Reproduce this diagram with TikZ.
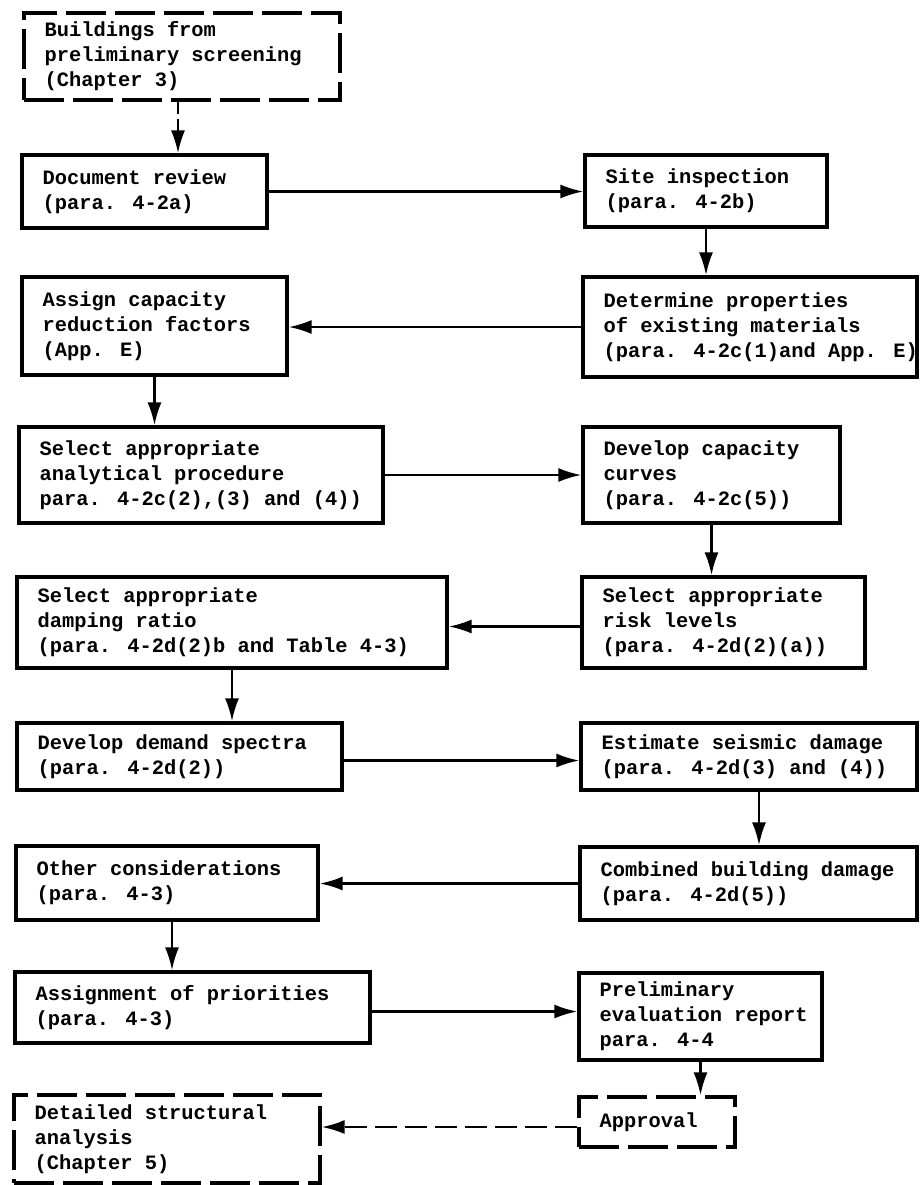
\documentclass[tikz,border=0pt]{standalone}
\usepackage{fontspec}
\newfontfamily\mono{Liberation Mono}
\usetikzlibrary{arrows.meta}
\tikzset{
  boxst/.style={draw, line width=3.2pt, rectangle, inner sep=0pt},
  dbox/.style={dash pattern=on 40pt off 9pt},
  txt/.style={align=left, inner sep=0pt, font=\mono\bfseries\fontsize{20.4}{25}\selectfont},
  arr/.style={line width=2.6pt, -{Latex[length=23pt,width=14pt]}},
  darr/.style={arr, dash pattern=on 22pt off 8pt},
}
\newcommand\mybox[7][]{%
  \node[boxst,#1, minimum width={#5-#3}, minimum height={#6-#4}] (#2) at ({(#3+#5)/2},{(#4+#6)/2}) {};
  \node[txt, anchor=west] (#2-t) at ([xshift=22pt]#2.west) {#7};
}
\begin{document}
\begin{tikzpicture}[x=1pt, y=-1pt]
\useasboundingbox[fill=white] (0,0) rectangle (919,1185);
\mybox[dbox]{b0}{24}{13}{340}{100}{Buildings from\\preliminary screening\\(Chapter 3)}
\mybox{b1}{22}{155}{267}{228}{Document review\\(para. 4-2a)}
\mybox{site}{585}{155}{827}{227}{Site inspection\\(para. 4-2b)}
\mybox{det}{583}{277}{917}{377}{Determine properties\\of existing materials\\(para. 4-2c(1)and App. E)}
\mybox{asg}{22}{277}{287}{375}{Assign capacity\\reduction factors\\(App. E)}
\mybox{ana}{19}{427}{383}{523}{Select appropriate\\analytical procedure\\para. 4-2c(2),(3) and (4))}
\mybox{cap}{583}{427}{840}{523}{Develop capacity\\curves\\(para. 4-2c(5))}
\mybox{risk}{582}{577}{865}{668}{Select appropriate\\risk levels\\(para. 4-2d(2)(a))}
\mybox{damp}{17}{577}{447}{668}{Select appropriate\\damping ratio\\(para. 4-2d(2)b and Table 4-3)}
\mybox{dem}{17}{723}{342}{790}{Develop demand spectra\\(para. 4-2d(2))}
\mybox{est}{581}{723}{917}{790}{Estimate seismic damage\\(para. 4-2d(3) and (4))}
\mybox{comb}{580}{847}{917}{920}{Combined building damage\\(para. 4-2d(5))}
\mybox{oth}{16}{846}{318}{920}{Other considerations\\(para. 4-3)}
\mybox{asgp}{15}{972}{370}{1043}{Assignment of priorities\\(para. 4-3)}
\mybox{pre}{579}{973}{822}{1060}{Preliminary\\evaluation report\\para. 4-4}
\mybox[dbox]{appr}{579}{1097}{735}{1147}{Approval}
\mybox[dbox]{detl}{14}{1095}{320}{1183}{Detailed structural\\analysis\\(Chapter 5)}

\draw[arr, dash pattern=on 12pt off 5pt] ([xshift=-4pt]b0.south) -- ([xshift=-4pt]b0.south |- b1.north);
\draw[arr] (b1.east) -- (b1.east -| site.west);
\draw[arr] (site.south) -- (site.south |- det.north);
\draw[arr] (det.west) -- (det.west -| asg.east);
\draw[arr] (asg.south) -- (asg.south |- ana.north);
\draw[arr] (ana.east) -- (ana.east -| cap.west);
\draw[arr] (cap.south) -- (cap.south |- risk.north);
\draw[arr] ([yshift=-4pt]risk.west) -- ([yshift=-4pt]risk.west -| damp.east);
\draw[arr] (damp.south) -- (damp.south |- dem.north);
\draw[arr] ([yshift=-4pt]dem.east) -- ([yshift=-4pt]dem.east -| est.west);
\draw[arr] ([xshift=10pt]est.south) -- ([xshift=10pt]est.south |- comb.north);
\draw[arr] (comb.west) -- (comb.west -| oth.east);
\draw[arr] ([xshift=5pt]oth.south) -- ([xshift=5pt]oth.south |- asgp.north);
\draw[arr] ([yshift=-4pt]asgp.east) -- ([yshift=-4pt]asgp.east -| pre.west);
\draw[arr] (pre.south) -- (pre.south |- appr.north);
\draw[darr] ([yshift=-5pt]appr.west) -- ([yshift=-5pt]appr.west -| detl.east);
\end{tikzpicture}
\end{document}
